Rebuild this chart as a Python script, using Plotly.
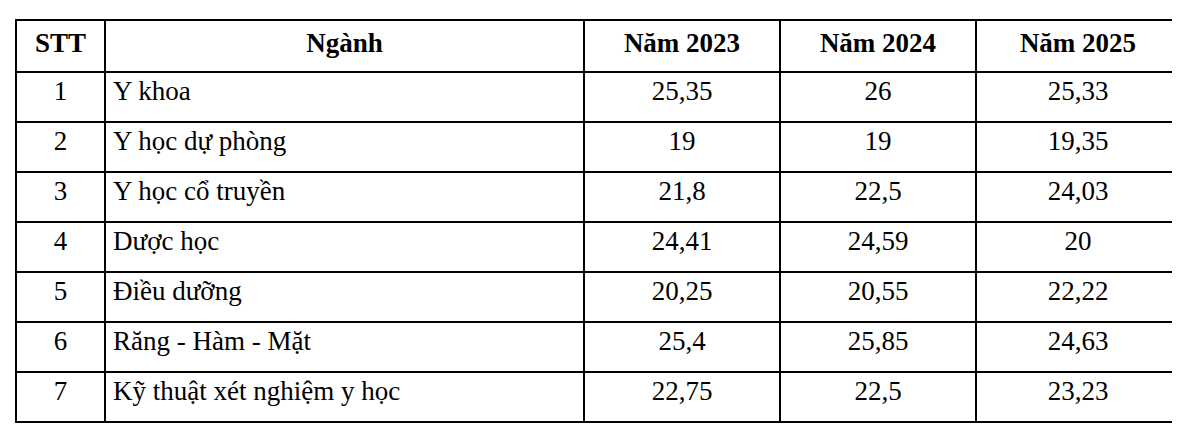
import plotly.graph_objects as go

stt = ["1", "2", "3", "4", "5", "6", "7"]
nganh = ["Y khoa", "Y học dự phòng", "Y học cổ truyền", "Dược học",
         "Điều dưỡng", "Răng - Hàm - Mặt", "Kỹ thuật xét nghiệm y học"]
nam_2023 = ["25,35", "19", "21,8", "24,41", "20,25", "25,4", "22,75"]
nam_2024 = ["26", "19", "22,5", "24,59", "20,55", "25,85", "22,5"]
nam_2025 = ["25,33", "19,35", "24,03", "20", "22,22", "24,63", "23,23"]
headers = ["STT", "Ngành", "Năm 2023", "Năm 2024", "Năm 2025"]

font = "Liberation Serif, Times New Roman, serif"

fig = go.Figure(go.Table(
    columnwidth=[89, 479, 196, 196, 204],
    header=dict(
        values=["<b>%s</b>" % h for h in headers],
        align="center",
        height=52,
        fill_color="white",
        line=dict(color="black", width=1.5),
        font=dict(family=font, size=27, color="black"),
    ),
    cells=dict(
        values=[stt, nganh, nam_2023, nam_2024, nam_2025],
        align=["center", "left", "center", "center", "center"],
        height=50,
        fill_color="white",
        line=dict(color="black", width=1.5),
        font=dict(family=font, size=27, color="black"),
    ),
))

fig.update_layout(
    width=1180, height=426,
    margin=dict(l=8, r=8, t=12, b=0),
    paper_bgcolor="white",
)

fig.write_html("out.html")
